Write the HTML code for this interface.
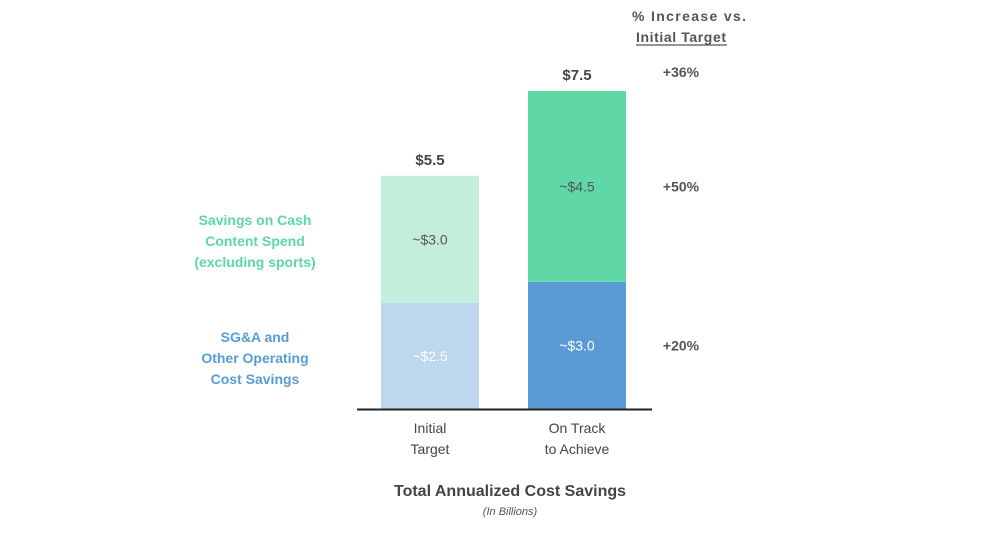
<!DOCTYPE html>
<html><head><meta charset="utf-8"><style>
body{margin:0;background:#fff;font-family:"Liberation Sans",sans-serif;}
svg text{font-family:"Liberation Sans",sans-serif;}
</style></head><body>
<svg id="chart" width="986" height="530" xmlns="http://www.w3.org/2000/svg">
<g id="marks"></g>
<line x1="357" y1="409.5" x2="652" y2="409.5" stroke="#222" stroke-width="2"/>
<text x="689" y="21" font-size="14" font-weight="bold" fill="#555" text-anchor="middle" textLength="114">% Increase vs.</text>
<text x="681" y="42" font-size="14" font-weight="bold" fill="#555" text-anchor="middle" textLength="90">Initial Target</text>
<line x1="636" y1="45" x2="727" y2="45" stroke="#555" stroke-width="1.2"/>
<text x="255" y="225" font-size="14" font-weight="bold" fill="#5fd6a5" text-anchor="middle"><tspan x="255">Savings on Cash</tspan><tspan x="255" dy="21">Content Spend</tspan><tspan x="255" dy="21">(excluding sports)</tspan></text>
<text x="255" y="342" font-size="14" font-weight="bold" fill="#5b9bd5" text-anchor="middle"><tspan x="255">SG&amp;A and</tspan><tspan x="255" dy="21">Other Operating</tspan><tspan x="255" dy="21">Cost Savings</tspan></text>
<text x="430" y="433" font-size="14" fill="#444" text-anchor="middle"><tspan x="430">Initial</tspan><tspan x="430" dy="21">Target</tspan></text>
<text x="577" y="433" font-size="14" fill="#444" text-anchor="middle"><tspan x="577">On Track</tspan><tspan x="577" dy="21">to Achieve</tspan></text>
<text x="510" y="496" font-size="16" font-weight="bold" fill="#444" text-anchor="middle">Total Annualized Cost Savings</text>
<text x="510" y="515" font-size="11" font-style="italic" fill="#555" text-anchor="middle">(In Billions)</text>
</svg>
<script>
const categories=["Initial Target","On Track to Achieve"];
const sgaValues=[2.5,3.0];
const contentValues=[3.0,4.5];
const totalLabels=["$5.5","$7.5"];
const pctLabels=["+20%","+50%","+36%"];
const baseY=409,unit=42.4,barW=98;
const x=i=>381+i*147;
const y=v=>baseY-v*unit;
const g=document.getElementById('marks');
const NS="http://www.w3.org/2000/svg";
const sgaCol=["#bdd7ee","#5b9bd5"],conCol=["#c2eedb","#60d7a6"],txtCol=["#fff","#fff"],conTxt=["#555","#555"];
function mk(t,a){const e=document.createElementNS(NS,t);for(const k in a)e.setAttribute(k,a[k]);g.appendChild(e);return e;}
categories.forEach((c,i)=>{
 const r1=mk('rect',{x:x(i),y:y(sgaValues[i]),width:barW,height:sgaValues[i]*unit,fill:sgaCol[i]});
 
 
 const tot=sgaValues[i]+contentValues[i];
 const r2=mk('rect',{x:x(i),y:y(tot),width:barW,height:contentValues[i]*unit,fill:conCol[i]});
 
 
 const t1=mk('text',{x:x(i)+barW/2,y:y(sgaValues[i]/2)+5,'font-size':14,fill:txtCol[i],'text-anchor':'middle'});
 t1.textContent='~$'+sgaValues[i].toFixed(1);
 
 
 const t2=mk('text',{x:x(i)+barW/2,y:y(sgaValues[i]+contentValues[i]/2)+5,'font-size':14,fill:conTxt[i],'text-anchor':'middle'});
 t2.textContent='~$'+contentValues[i].toFixed(1);
 
 
 const t3=mk('text',{x:x(i)+barW/2,y:y(tot)-11,'font-size':15,'font-weight':'bold',fill:'#444','text-anchor':'middle'});
 t3.textContent=totalLabels[i];
 
 
});
const pctY=[y(sgaValues[1]/2),y(sgaValues[1]+contentValues[1]/2),y(sgaValues[1]+contentValues[1])-11];
pctLabels.forEach((p,i)=>{
 const t=mk('text',{x:681,y:i<2?pctY[i]+5:77,'font-size':14,'font-weight':'bold',fill:'#555','text-anchor':'middle'});
 t.textContent=p;
 
 
});
</script>
</body></html>
